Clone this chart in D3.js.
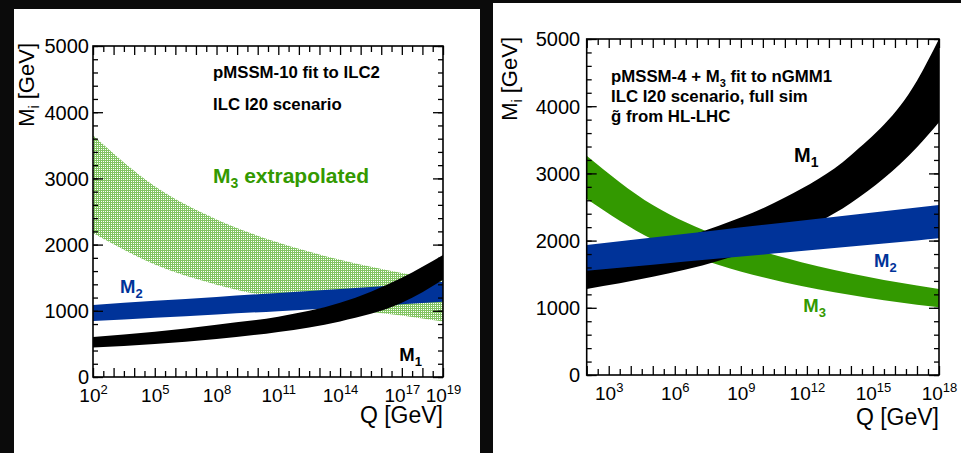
<!DOCTYPE html>
<html><head><meta charset="utf-8">
<script src="https://cdn.jsdelivr.net/npm/d3@7"></script>
<style>
html,body{margin:0;padding:0;background:#0b0b0b;overflow:hidden}
svg{display:block}
text{font-family:"Liberation Sans",Arial,Helvetica,sans-serif}
</style></head><body>
<svg id="c" width="961" height="453"></svg>
<script>
// ---------- data ----------
// Left panel: pMSSM-10 fit to ILC2
const leftQ      = [1e2, 1e5, 1e8, 1e11, 1e14, 1e17, 1e19];
const leftM1Low  = [445, 500, 575, 680, 840, 1120, 1470];
const leftM1High = [605, 685, 790, 910, 1120, 1500, 1843];
const leftM2Low  = [846, 895, 945, 995, 1045, 1100, 1138];
const leftM2High = [1088, 1150, 1210, 1270, 1330, 1395, 1440];
const leftM3Low  = [2175, 1700, 1395, 1190, 1040, 930, 840];
const leftM3High = [3650, 2880, 2380, 2030, 1770, 1570, 1460];
const leftXTickExps = [2, 5, 8, 11, 14, 17, 19];

// Right panel: pMSSM-4 + M3 fit to nGMM1
const rightQ      = [1e2, 1e5, 1e8, 1e11, 1e14, 1e17, 1e18];
const rightM1Low  = [1280, 1461, 1701, 2050, 2560, 3390, 3760];
const rightM1High = [1685, 1915, 2220, 2640, 3270, 4380, 5000];
const rightM2Low  = [1552, 1642, 1732, 1822, 1912, 2003, 2034];
const rightM2High = [1935, 2047, 2158, 2270, 2381, 2493, 2530];
const rightM3Low  = [2619, 2015, 1636, 1378, 1189, 1046, 1007];
const rightM3High = [3264, 2528, 2063, 1743, 1509, 1330, 1280];
const rightXTickExps = [3, 6, 9, 12, 15, 18];

const yTickValues = [0, 1000, 2000, 3000, 4000, 5000];
const yMinorValues = d3.range(0, 5001, 200);

// ---------- drawing ----------
const FONT = '"Liberation Sans",Arial,Helvetica,sans-serif';
const GREEN = "#339900", BLUE = "#003399", BLACK = "#000";
const svg = d3.select("#c");
svg.append("rect").attr("width", 961).attr("height", 453).attr("fill", "#0b0b0b");
svg.append("rect").attr("x", 14).attr("y", 9).attr("width", 466).attr("height", 444).attr("fill", "#fff");
svg.append("rect").attr("x", 493).attr("y", 3).attr("width", 468).attr("height", 450).attr("fill", "#fff");

const defs = svg.append("defs");
const pat = defs.append("pattern").attr("id", "hatch").attr("patternUnits", "userSpaceOnUse")
  .attr("width", 2).attr("height", 2);
pat.append("rect").attr("width", 2).attr("height", 2).attr("fill", "#82c462");
pat.append("rect").attr("x", 1).attr("y", 1).attr("width", 1).attr("height", 1).attr("fill", "#ffffff");

function rows(q, lo, hi) { return q.map((v, i) => ({ q: v, lo: lo[i], hi: hi[i] })); }

function drawPanel(o) {
  const x = d3.scaleLog().domain([o.qMin, o.qMax]).range([o.x0, o.x1]);
  const y = d3.scaleLinear().domain([0, 5000]).range([o.y1, o.y0]);
  const g = svg.append("g");
  const clipId = "clip" + o.id;
  defs.append("clipPath").attr("id", clipId).append("rect")
    .attr("x", o.x0).attr("y", o.y0).attr("width", o.x1 - o.x0).attr("height", o.y1 - o.y0);

  const area = d3.area().x(d => x(d.q)).y0(d => y(d.lo)).y1(d => y(d.hi)).curve(d3.curveMonotoneX);
  const bandG = g.append("g").attr("clip-path", `url(#${clipId})`);
  o.bands.forEach(b => bandG.append("path").datum(b.data).attr("d", area).attr("fill", b.fill));

  const lmin = Math.log10(o.qMin), lmax = Math.log10(o.qMax);
  const decades = d3.range(Math.ceil(lmin), Math.floor(lmax) + 1).map(e => Math.pow(10, e));
  const halves = d3.range(Math.ceil(lmin) + 0.5, lmax, 1).map(e => Math.pow(10, e));

  const clean = sel => { sel.select(".domain").remove(); sel.attr("font-size", null).attr("font-family", null);
    sel.selectAll("line").attr("stroke", "#000").attr("stroke-width", 1.3); };

  // x axes (bottom and mirrored top)
  g.append("g").attr("transform", `translate(0,${o.y1})`)
    .call(d3.axisBottom(x).tickValues(halves).tickSize(-6).tickFormat("")).call(clean);
  g.append("g").attr("transform", `translate(0,${o.y1})`)
    .call(d3.axisBottom(x).tickValues(decades).tickSize(-9).tickFormat("")).call(clean);
  g.append("g").attr("transform", `translate(0,${o.y0})`)
    .call(d3.axisTop(x).tickValues(halves).tickSize(-6).tickFormat("")).call(clean);
  g.append("g").attr("transform", `translate(0,${o.y0})`)
    .call(d3.axisTop(x).tickValues(decades).tickSize(-9).tickFormat("")).call(clean);

  // x tick labels 10^n
  const xl = g.append("g").attr("transform", `translate(0,${o.y1})`)
    .call(d3.axisBottom(x).tickValues(o.xExps.map(e => Math.pow(10, e))).tickSize(0).tickPadding(0).tickFormat(""))
    .call(clean);
  xl.selectAll(".tick text").each(function (d) {
    const t = d3.select(this).attr("y", 24.5).attr("dy", null).attr("fill", "#000")
      .attr("font-size", 19).attr("font-family", FONT).attr("text-anchor", "middle");
    t.append("tspan").text("10");
    t.append("tspan").attr("dy", -8).attr("font-size", 13).text(Math.round(Math.log10(d)));
  });

  // y axes
  g.append("g").attr("transform", `translate(${o.x0},0)`)
    .call(d3.axisLeft(y).tickValues(yMinorValues).tickSize(-5).tickFormat("")).call(clean);
  g.append("g").attr("transform", `translate(${o.x1},0)`)
    .call(d3.axisRight(y).tickValues(yMinorValues).tickSize(-5).tickFormat("")).call(clean);
  g.append("g").attr("transform", `translate(${o.x1},0)`)
    .call(d3.axisRight(y).tickValues(yTickValues).tickSize(-10).tickFormat("")).call(clean);
  const yl = g.append("g").attr("transform", `translate(${o.x0},0)`)
    .call(d3.axisLeft(y).tickValues(yTickValues).tickSize(-10).tickPadding(o.yPad).tickFormat(d3.format("d")))
    .call(clean);
  yl.selectAll(".tick text").attr("fill", "#000").attr("font-size", 20).attr("font-family", FONT).attr("dy", "0.34em");

  // frame
  g.append("rect").attr("x", o.x0).attr("y", o.y0).attr("width", o.x1 - o.x0).attr("height", o.y1 - o.y0)
    .attr("fill", "none").attr("stroke", "#000").attr("stroke-width", 1.6);

  // axis titles
  const yt = g.append("text").attr("transform", `translate(${o.yTitleX},${o.yTitleY}) rotate(-90)`)
    .attr("text-anchor", "end").attr("font-size", 22).attr("fill", "#000");
  yt.append("tspan").text("M");
  yt.append("tspan").attr("font-size", 14).attr("dy", 5).text("i");
  yt.append("tspan").attr("dy", -5).text(" [GeV]");
  g.append("text").attr("x", o.x1).attr("y", o.xTitleY).attr("text-anchor", "end")
    .attr("font-size", 23).attr("fill", "#000").text("Q [GeV]");

  return g;
}

function subLabel(g, x, y, main, sub, size, color, rest) {
  const t = g.append("text").attr("x", x).attr("y", y).attr("font-size", size)
    .attr("font-weight", "bold").attr("fill", color);
  t.append("tspan").text(main);
  t.append("tspan").attr("font-size", Math.round(size * 0.68)).attr("dy", size * 0.27).text(sub);
  if (rest) t.append("tspan").attr("dy", -size * 0.27).text(rest);
  return t;
}
function plain(g, x, y, s, size, color) {
  g.append("text").attr("x", x).attr("y", y).attr("font-size", size).attr("font-weight", "bold")
    .attr("fill", color).text(s);
}

// Left panel
const gl = drawPanel({
  id: "L", x0: 93, x1: 443, y0: 46, y1: 377, qMin: 1e2, qMax: 1e19, xExps: leftXTickExps, yPad: 4,
  yTitleX: 33.5, yTitleY: 43, xTitleY: 423,
  bands: [
    { data: rows(leftQ, leftM3Low, leftM3High), fill: "url(#hatch)" },
    { data: rows(leftQ, leftM2Low, leftM2High), fill: BLUE },
    { data: rows(leftQ, leftM1Low, leftM1High), fill: BLACK }
  ]
});
plain(gl, 213, 78, "pMSSM-10 fit to ILC2", 16.8, "#000");
plain(gl, 213, 110, "ILC I20 scenario", 16.8, "#000");
subLabel(gl, 213, 182.7, "M", "3", 21, GREEN, " extrapolated");
subLabel(gl, 120, 293.3, "M", "2", 18.5, BLUE);
subLabel(gl, 399.3, 360.7, "M", "1", 18.5, "#000");

// Right panel
const gr = drawPanel({
  id: "R", x0: 586.7, x1: 939, y0: 39, y1: 375, qMin: 1e2, qMax: 1e18, xExps: rightXTickExps, yPad: 6.5,
  yTitleX: 517, yTitleY: 37, xTitleY: 425,
  bands: [
    { data: rows(rightQ, rightM3Low, rightM3High), fill: GREEN },
    { data: rows(rightQ, rightM1Low, rightM1High), fill: BLACK },
    { data: rows(rightQ, rightM2Low, rightM2High), fill: BLUE }
  ]
});
subLabel(gr, 611, 82, "pMSSM-4 + M", "3", 16.8, "#000", " fit to nGMM1");
plain(gr, 611, 102.3, "ILC I20 scenario, full sim", 16.8, "#000");
plain(gr, 611, 121.7, "g\u0303 from HL-LHC", 16.8, "#000");
subLabel(gr, 794, 161.7, "M", "1", 20, "#000");
subLabel(gr, 874, 267.3, "M", "2", 18.5, BLUE);
subLabel(gr, 803.3, 311.7, "M", "3", 18.5, GREEN);
</script>
</body></html>
